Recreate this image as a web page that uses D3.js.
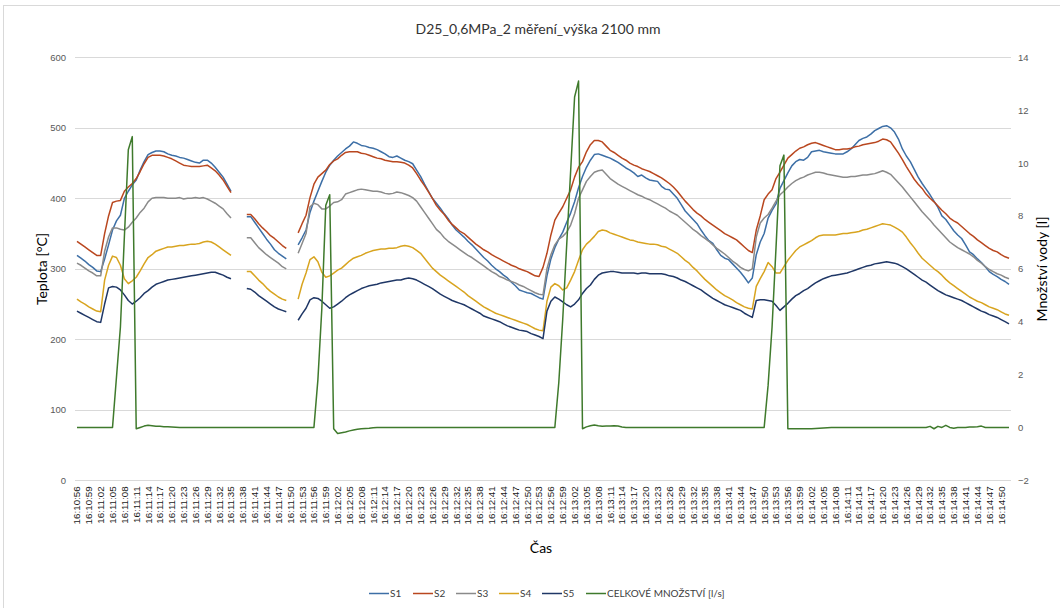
<!DOCTYPE html>
<html>
<head>
<meta charset="utf-8">
<script src="https://cdn.jsdelivr.net/npm/d3@7/dist/d3.min.js"></script>
<style>
  html, body { margin: 0; padding: 0; background: #fff; }
  svg { display: block; }
</style>
</head>
<body>
<svg id="chart" width="1060" height="608"></svg>
<script>
// Measurement D25, 0.6 MPa, run 2, height 2100 mm — one sample per second
const startTime = [16, 10, 56];
const sampleCount = 237;
const fmt = d3.timeFormat("%H:%M:%S");
const times = d3.range(sampleCount).map(i =>
  fmt(new Date(2000, 0, 1, startTime[0], startTime[1], startTime[2] + i)));
const tickLabels = times.filter((d, i) => i % 3 === 0);

const seriesNames = ["S1", "S2", "S3", "S4", "S5"];
const flowName = "CELKOVÉ MNOŽSTVÍ [l/s]";

// temperatures [°C]; null = no reading
const S1 = [
  319,315,311,306,302,297,296,314,334,355,
  368,376,400,410,419,426,440,452,462,465,
  467,467,466,463,461,460,458,457,455,453,
  451,450,454,454,450,444,437,430,420,410,
  null,null,null,374,374,366,358,350,342,335,
  327,322,318,314,null,null,334,344,355,380,
  396,410,424,437,447,454,460,465,470,474,
  480,478,475,474,472,471,469,466,463,459,
  458,460,457,454,452,449,440,431,420,410,
  400,393,386,378,371,362,355,350,345,339,
  334,328,322,316,311,305,300,296,291,287,
  281,276,270,268,266,265,262,259,257,290,
  314,330,342,352,366,379,395,415,431,444,
  454,462,463,461,459,457,454,451,447,443,
  440,436,431,433,429,426,425,424,417,413,
  412,406,400,391,382,376,370,364,355,347,
  340,336,327,319,315,313,307,301,295,288,
  280,287,320,338,350,372,383,392,414,425,
  436,446,452,455,454,458,466,467,468,466,
  465,464,463,463,463,466,470,476,482,485,
  487,491,496,499,502,503,500,494,484,470,
  460,452,441,430,421,413,405,396,387,375,
  370,362,354,348,343,334,324,320,314,309,
  303,296,292,289,285,282,278
];
const S2 = [
  339,335,331,327,323,319,319,350,375,394,
  396,397,410,416,421,428,438,449,458,461,
  461,461,460,458,456,453,450,447,446,445,
  445,445,446,447,443,439,433,426,417,408,
  null,null,null,377,377,371,364,358,353,347,
  343,338,333,329,null,null,351,364,376,401,
  420,430,435,440,448,453,456,461,465,466,
  466,466,464,463,461,459,457,456,454,453,
  452,452,451,450,447,443,435,426,418,409,
  400,390,383,377,369,363,358,353,350,345,
  340,335,331,327,324,320,317,314,311,308,
  305,303,300,298,296,293,290,289,302,322,
  348,369,379,388,400,412,430,444,452,466,
  476,482,482,480,474,468,465,461,457,454,
  450,447,445,442,440,438,435,432,429,425,
  421,416,410,403,396,390,384,379,375,370,
  366,362,358,354,350,347,344,341,336,331,
  326,323,355,375,398,406,412,428,437,447,
  457,462,467,471,473,476,478,479,477,475,
  473,471,469,469,470,470,471,473,474,476,
  477,478,479,481,484,483,480,472,464,455,
  445,436,427,420,414,406,400,395,389,383,
  378,372,368,365,360,355,350,346,341,337,
  333,329,326,324,320,317,315
];
const S3 = [
  308,305,301,297,294,290,290,325,345,358,
  358,356,355,359,366,372,380,386,395,400,
  401,401,401,400,400,400,401,399,400,400,
  401,400,401,399,396,393,389,385,378,372,
  null,null,null,344,344,337,330,325,320,316,
  312,308,303,300,null,null,322,336,350,388,
  393,391,385,385,389,394,395,398,406,408,
  410,412,413,412,411,410,410,409,407,406,
  407,409,408,406,404,401,396,388,380,372,
  364,356,351,344,339,335,331,327,323,319,
  316,312,308,304,300,296,293,289,287,284,
  282,280,277,275,272,269,266,264,263,300,
  320,334,342,346,352,362,378,400,412,424,
  431,437,439,440,434,428,424,420,417,414,
  411,408,405,403,400,398,395,392,389,386,
  382,379,376,371,366,361,356,352,347,343,
  339,334,329,325,321,316,311,307,302,299,
  297,300,345,365,372,377,386,396,405,410,
  416,421,425,428,430,433,435,437,437,436,
  434,433,432,431,430,430,431,431,432,433,
  433,434,435,437,439,437,434,428,422,416,
  409,402,395,388,381,375,369,362,356,350,
  344,338,334,330,327,324,321,317,312,308,
  303,299,296,293,291,288,286
];
const S4 = [
  257,253,250,246,243,240,239,284,305,318,
  316,305,286,279,283,288,297,307,316,320,
  325,327,329,331,331,332,333,333,334,335,
  335,336,338,339,338,335,331,327,323,319,
  null,null,null,296,296,290,284,279,273,268,
  264,260,257,255,null,null,257,278,294,313,
  317,310,295,288,290,294,298,301,306,311,
  315,317,319,322,324,326,327,328,328,329,
  329,330,332,333,332,330,326,322,315,308,
  301,296,291,287,283,279,275,271,267,262,
  258,254,250,246,243,240,237,235,233,231,
  229,227,225,223,221,218,215,213,212,254,
  274,279,276,270,273,284,296,312,327,335,
  340,346,353,355,354,351,349,347,345,343,
  341,340,338,337,336,335,335,334,332,331,
  328,325,322,317,312,308,302,297,291,285,
  280,275,270,266,262,259,256,252,249,246,
  244,243,275,286,296,309,303,294,294,303,
  312,319,326,331,334,337,340,344,347,348,
  348,348,348,349,350,350,351,352,353,355,
  356,358,360,362,364,363,362,359,356,352,
  345,337,330,322,315,310,305,300,296,291,
  285,280,276,272,268,264,260,257,254,252,
  249,246,244,242,239,236,234
];
const S5 = [
  240,237,234,231,228,225,224,250,273,275,
  274,270,263,255,250,254,259,265,269,274,
  278,280,282,284,285,286,287,288,289,290,
  291,292,293,294,295,295,293,291,288,286,
  null,null,null,272,271,267,262,258,254,250,
  246,243,241,239,null,null,227,236,244,256,
  259,258,254,249,244,246,250,254,259,263,
  266,269,272,274,276,277,278,280,281,282,
  283,284,284,286,287,286,284,281,278,275,
  272,268,264,261,258,255,253,251,249,246,
  243,240,237,233,231,229,227,225,222,219,
  217,215,213,212,211,208,206,204,201,240,
  254,260,257,253,249,246,250,256,265,272,
  277,285,291,294,295,296,296,295,294,294,
  294,294,293,294,294,293,293,293,293,292,
  290,289,287,284,282,279,276,273,270,266,
  262,258,255,252,249,247,245,243,241,237,
  234,231,255,256,256,255,254,248,241,246,
  251,257,262,265,269,272,276,280,283,286,
  288,290,291,292,293,294,296,298,300,302,
  304,305,307,308,309,310,309,308,306,303,
  300,296,292,288,284,281,277,273,269,266,
  263,261,259,257,255,252,249,246,243,240,
  238,235,233,231,228,225,222
];
// total water flow (right axis)
const flow = [
  0,0,0,0,0,0,0,0,0,0,
  1.9,3.8,7.2,10.5,11.0,-0.05,0,0.05,0.08,0.06,
  0.04,0.04,0.03,0.03,0.02,0.01,0,0,0,0,
  0,0,0,0,0,0,0,0,0,0,
  0,0,0,0,0,0,0,0,0,0,
  0,0,0,0,0,0,0,0,0,0,
  0,1.8,4.5,8.4,8.8,-0.05,-0.23,-0.2,-0.17,-0.13,
  -0.1,-0.07,-0.05,-0.04,-0.03,-0.01,0,0,0,0,
  0,0,0,0,0,0,0,0,0,0,
  0,0,0,0,0,0,0,0,0,0,
  0,0,0,0,0,0,0,0,0,0,
  0,0,0,0,0,0,0,0,0,0,
  0,0,1.7,4.1,6.9,9.7,12.5,13.1,-0.05,0.02,
  0.06,0.09,0.06,0.04,0.05,0.05,0.06,0.05,0.02,0,
  0,0,0,0,0,0,0,0,0,0,
  0,0,0,0,0,0,0,0,0,0,
  0,0,0,0,0,0,0,0,0,0,
  0,0,0,0,0,1.6,3.8,6.8,9.9,10.3,
  -0.05,-0.05,-0.05,-0.05,-0.05,-0.05,-0.05,-0.04,-0.03,-0.02,
  -0.01,0,0,0,0,0,0,0,0,0,
  0,0,0,0,0,0,0,0,0,0,
  0,0,0,0,0,0,0.04,-0.05,0.04,0,
  0.08,0,-0.03,0,0,0,0.02,0.02,0.03,0.05,
  0,0,0,0,0,0,0
];

const leftTicks = [0, 100, 200, 300, 400, 500, 600];
const rightTicks = [-2, 0, 2, 4, 6, 8, 10, 12, 14];

const colors = ["#3d6fa6", "#b9471f", "#8a8a8a", "#d8a41f", "#1f3766", "#3f7a2c"];

const svg = d3.select("#chart");
const W = 1060, H = 608;
const plot = { left: 75, right: 1011, top: 57.3, bottom: 480.3 };
const textFont = "Lato, 'Liberation Sans', sans-serif";
const tickFont = "'Liberation Sans', Arial, sans-serif";

// chart frame
svg.append("rect").attr("x", 3.5).attr("y", 5.5).attr("width", W + 20).attr("height", H + 20)
  .attr("fill", "#fff").attr("stroke", "#d9d9d9").attr("stroke-width", 1);

const x = d3.scaleBand().domain(times).range([plot.left, plot.right]).paddingInner(0).paddingOuter(0);
const cx = t => x(t) + x.bandwidth() / 2;
const yL = d3.scaleLinear().domain([0, 600]).range([plot.bottom, plot.top]);
const yR = d3.scaleLinear().domain([-2, 14]).range([plot.bottom, plot.top]);

// horizontal gridlines
svg.append("g").selectAll("line").data(leftTicks).join("line")
  .attr("x1", plot.left).attr("x2", plot.right)
  .attr("y1", d => Math.round(yL(d)) + 0.5).attr("y2", d => Math.round(yL(d)) + 0.5)
  .attr("stroke", "#d9d9d9").attr("stroke-width", 1.2);

// left axis
const gL = svg.append("g").attr("transform", `translate(${plot.left - 9},0)`)
  .call(d3.axisLeft(yL).tickValues(leftTicks).tickSize(0).tickPadding(0));
gL.select(".domain").remove();
gL.selectAll("text").attr("fill", "#595959").style("font-family", tickFont).style("font-size", "9.5px");

// right axis
const gR = svg.append("g").attr("transform", `translate(${plot.right + 7},0)`)
  .call(d3.axisRight(yR).tickValues(rightTicks).tickSize(0).tickPadding(0));
gR.select(".domain").remove();
gR.selectAll("text").attr("fill", "#595959").style("font-family", tickFont).style("font-size", "9.5px");

// bottom axis, rotated time labels every 3 s
const gB = svg.append("g").attr("transform", `translate(0,${plot.bottom})`)
  .call(d3.axisBottom(x).tickValues(tickLabels).tickSize(0));
gB.select(".domain").remove();
gB.selectAll("text")
  .attr("transform", "rotate(-90)")
  .attr("x", -6).attr("y", 0).attr("dy", "0.35em")
  .style("text-anchor", "end")
  .attr("fill", "#1a1a1a")
  .style("font-family", tickFont).style("font-size", "9.8px");

// series lines
const tempSeries = [S1, S2, S3, S4, S5];
const lineL = d3.line().defined(d => d.v != null).x(d => cx(d.t)).y(d => yL(d.v));
const lineR = d3.line().defined(d => d.v != null).x(d => cx(d.t)).y(d => yR(d.v));

tempSeries.forEach((arr, k) => {
  svg.append("path")
    .datum(arr.map((v, i) => ({ t: times[i], v })))
    .attr("d", lineL)
    .attr("fill", "none")
    .attr("stroke", colors[k])
    .attr("stroke-width", 1.5)
    .attr("stroke-linejoin", "round");
});
svg.append("path")
  .datum(flow.map((v, i) => ({ t: times[i], v })))
  .attr("d", lineR)
  .attr("fill", "none")
  .attr("stroke", colors[5])
  .attr("stroke-width", 1.5)
  .attr("stroke-linejoin", "round");

// titles
svg.append("text").attr("x", 538).attr("y", 34).attr("text-anchor", "middle")
  .style("font-family", textFont).style("font-size", "14px").attr("fill", "#333")
  .text("D25_0,6MPa_2 měření_výška 2100 mm");
svg.append("text").attr("transform", "translate(47,269) rotate(-90)").attr("text-anchor", "middle")
  .style("font-family", textFont).style("font-size", "14px").attr("fill", "#000")
  .text("Teplota [°C]");
svg.append("text").attr("transform", "translate(1047,269) rotate(-90)").attr("text-anchor", "middle")
  .style("font-family", textFont).style("font-size", "14px").attr("fill", "#000")
  .text("Množství vody [l]");
svg.append("text").attr("x", 541).attr("y", 553).attr("text-anchor", "middle")
  .style("font-family", textFont).style("font-size", "14px").attr("fill", "#000")
  .text("Čas");

// legend
const legendNames = seriesNames.concat([flowName]);
const legendX = [369, 413, 456, 499, 542, 586];
const lg = svg.append("g");
legendNames.forEach((name, k) => {
  lg.append("line").attr("x1", legendX[k]).attr("x2", legendX[k] + 20)
    .attr("y1", 593.5).attr("y2", 593.5).attr("stroke", colors[k]).attr("stroke-width", 1.5);
  lg.append("text").attr("x", legendX[k] + 21).attr("y", 597)
    .style("font-family", textFont).style("font-size", "10px").attr("fill", "#404040")
    .text(name);
});
</script>
</body>
</html>
